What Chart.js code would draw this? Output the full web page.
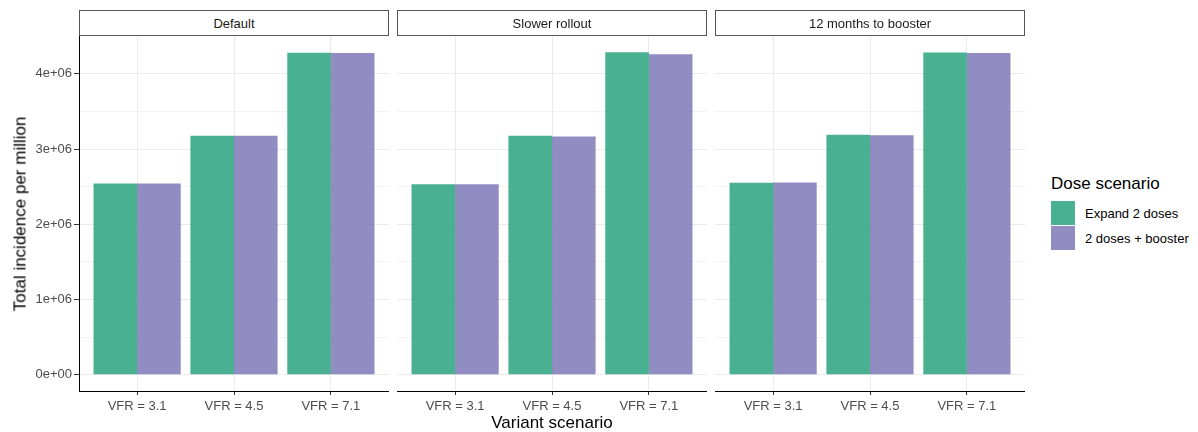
<!DOCTYPE html>
<html>
<head>
<meta charset="utf-8">
<title>Total incidence per million by variant and dose scenario</title>
<script src="https://cdn.jsdelivr.net/npm/chart.js@4.4.1/dist/chart.umd.min.js"></script>
<style>
  html, body { margin: 0; padding: 0; background: #fff; }
  #wrap { position: relative; width: 1198px; height: 432px; overflow: hidden;
          font-family: "Liberation Sans", Arial, sans-serif; }
  #wrap canvas { position: absolute; top: 0; }
  .strip { position: absolute; top: 10px; height: 26px; box-sizing: border-box;
           border: 1px solid #555; background: #fff; color: #1a1a1a; font-size: 13px;
           display: flex; align-items: center; justify-content: center; z-index: 2; }
  .title { position: absolute; white-space: nowrap; color: #000; font-size: 17px; line-height: 1; }
  .key { position: absolute; left: 1051px; width: 24px; height: 24px; }
  .keylabel { position: absolute; left: 1085px; font-size: 13px; color: #000; line-height: 1;
              transform: translateY(-50%); white-space: nowrap; }
</style>
</head>
<body>
<div id="wrap">
  <canvas id="p0" width="389" height="432" style="left:0px"></canvas>
  <canvas id="p1" width="310" height="432" style="left:397px"></canvas>
  <canvas id="p2" width="310" height="432" style="left:715px"></canvas>

  <div class="title" id="ytitle" style="left:20px; top:213.5px; transform: translate(-50%,-50%) rotate(-90deg);"></div>
  <div class="title" id="xtitle" style="left:552px; top:413.5px; transform: translateX(-50%);"></div>
  <div class="title" id="legtitle" style="left:1051px; top:174.6px;"></div>
  <div class="key" id="key0" style="top:201px;"></div>
  <div class="key" id="key1" style="top:226px;"></div>
  <div class="keylabel" id="lab0" style="top:213px;"></div>
  <div class="keylabel" id="lab1" style="top:238px;"></div>
</div>

<script>
// ---- data ----
const panels = ['Default', 'Slower rollout', '12 months to booster'];
const variants = ['VFR = 3.1', 'VFR = 4.5', 'VFR = 7.1'];
const doseScenarios = ['Expand 2 doses', '2 doses + booster'];

const expandDefault  = [2542000, 3176000, 4279000];
const boosterDefault = [2542000, 3176000, 4275000];
const expandSlower   = [2534000, 3176000, 4288000];
const boosterSlower  = [2534000, 3167000, 4261000];
const expand12m      = [2551000, 3189000, 4283000];
const booster12m     = [2555000, 3185000, 4275000];

const yTickValues = [0, 500000, 1000000, 1500000, 2000000, 2500000, 3000000, 3500000, 4000000];

const xTitle = 'Variant scenario';
const yTitle = 'Total incidence per million';
const legendTitle = 'Dose scenario';

// ---- styling ----
const FONT = '"Liberation Sans", Arial, sans-serif';
const fills = ['rgba(27,158,119,0.8)', 'rgba(117,112,179,0.8)'];
const panelSeries = [
  [expandDefault, boosterDefault],
  [expandSlower, boosterSlower],
  [expand12m, booster12m]
];
const panelLeft = [79, 397, 715];
const panelWidth = 310;

// shared y range: 5% padding around [0, max] on both sides
const allValues = panelSeries.flat(2);
const yMaxData = Math.max(0, ...allValues);
const yPad = yMaxData * 0.05;
const yMin = -yPad;
const yMax = yMaxData + yPad;

function sci(v) {
  if (v === 0) return '0e+00';
  return (v / 1e6) + 'e+06';
}
const isMajor = v => Math.abs(v % 1000000) < 1;

function makePanel(canvasId, series, showY) {
  const ctx = document.getElementById(canvasId);
  return new Chart(ctx, {
    type: 'bar',
    data: {
      datasets: series.map((vals, d) => ({
        label: doseScenarios[d],
        data: vals.map((v, i) => ({ x: i + 1, y: v })),
        backgroundColor: fills[d],
        borderWidth: 0,
        categoryPercentage: 0.9,
        barPercentage: 1.0
      }))
    },
    options: {
      responsive: false,
      animation: false,
      devicePixelRatio: 1,
      layout: { padding: { top: 36, left: 0, right: 0, bottom: 0 } },
      plugins: { legend: { display: false }, tooltip: { enabled: false } },
      scales: {
        x: {
          type: 'linear',
          min: 0.4,
          max: 3.6,
          offset: false,
          afterBuildTicks: s => { s.ticks = variants.map((_, i) => ({ value: i + 1 })); },
          afterFit: s => { s.height = 41; },
          ticks: {
            callback: v => variants[Math.round(v) - 1] || '',
            color: '#4d4d4d',
            font: { family: FONT, size: 13 },
            padding: 4,
            maxRotation: 0,
            autoSkip: false
          },
          grid: { offset: false, color: '#ebebeb', lineWidth: 1, tickColor: '#333', tickLength: 4 },
          border: { display: true, color: '#000', width: 1 }
        },
        y: {
          type: 'linear',
          min: yMin,
          max: yMax,
          afterBuildTicks: s => { s.ticks = yTickValues.map(v => ({ value: v })); },
          afterFit: s => { s.width = showY ? 79 : 0; },
          ticks: {
            display: showY,
            callback: v => isMajor(v) ? sci(v) : '',
            color: '#4d4d4d',
            font: { family: FONT, size: 13 },
            padding: 2
          },
          grid: {
            color: c => (c.tick && isMajor(c.tick.value)) ? '#ebebeb' : '#f3f3f3',
            lineWidth: 1,
            drawTicks: showY,
            tickLength: 5,
            tickColor: c => (c.tick && isMajor(c.tick.value)) ? '#333' : 'rgba(0,0,0,0)'
          },
          border: { display: showY, color: '#000', width: 1 }
        }
      }
    }
  });
}

panelSeries.forEach((series, p) => makePanel('p' + p, series, p === 0));

// facet strips
const wrap = document.getElementById('wrap');
panels.forEach((name, p) => {
  const s = document.createElement('div');
  s.className = 'strip';
  s.style.left = panelLeft[p] + 'px';
  s.style.width = panelWidth + 'px';
  s.textContent = name;
  wrap.appendChild(s);
});

// titles and legend
document.getElementById('ytitle').textContent = yTitle;
document.getElementById('xtitle').textContent = xTitle;
document.getElementById('legtitle').textContent = legendTitle;
doseScenarios.forEach((name, d) => {
  document.getElementById('key' + d).style.background = fills[d];
  document.getElementById('lab' + d).textContent = name;
});
</script>
</body>
</html>
